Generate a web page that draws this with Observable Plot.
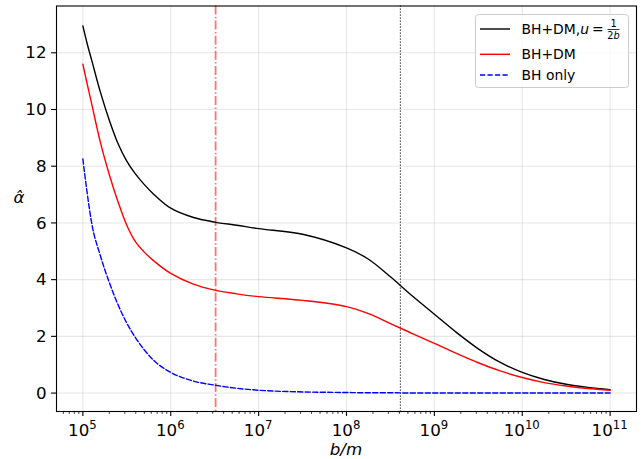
<!DOCTYPE html>
<html>
<head>
<meta charset="utf-8">
<script src="https://cdn.jsdelivr.net/npm/d3@7"></script>
<script src="https://cdn.jsdelivr.net/npm/@observablehq/plot@0.6"></script>
<style>
  html, body { margin: 0; padding: 0; background: white; }
  svg { display: block; }
</style>
</head>
<body>
<div id="chart"></div>
<script>
// ---- data ----
const bValues = [1.00e5, 1.12e5, 1.26e5, 1.58e5, 2.00e5, 2.51e5, 3.16e5, 3.98e5, 5.01e5, 6.31e5,
  1.00e6, 1.78e6, 3.16e6, 5.62e6, 1.00e7, 3.16e7, 1.00e8, 1.78e8, 3.16e8, 5.62e8,
  1.00e9, 1.78e9, 3.16e9, 5.62e9, 1.00e10, 1.78e10, 3.16e10, 5.62e10, 1.00e11];
const alphaBHDMu = [12.95, 12.32, 11.74, 10.62, 9.62, 8.8, 8.18, 7.72, 7.35, 7.03,
  6.52, 6.2, 6.03, 5.92, 5.8, 5.6, 5.12, 4.72, 4.1, 3.42,
  2.78, 2.14, 1.56, 1.08, 0.73, 0.48, 0.31, 0.2, 0.12];
const alphaBHDM = [11.6, 10.9, 10.2, 8.85, 7.7, 6.75, 5.92, 5.33, 4.97, 4.68,
  4.22, 3.85, 3.63, 3.5, 3.4, 3.27, 3.05, 2.8, 2.45, 2.1,
  1.75, 1.4, 1.07, 0.78, 0.55, 0.37, 0.25, 0.16, 0.1];
const alphaBHonly = [8.26, 7.05, 6.0, 4.85, 3.9, 3.12, 2.47, 1.95, 1.52, 1.17,
  0.73, 0.43, 0.28, 0.17, 0.1, 0.04, 0.02, 0.01, 0.01, 0.0,
  0.0, 0.0, 0.0, 0.0, 0.0, 0.0, 0.0, 0.0, 0.0];
const seriesNames = ["BH+DM,u", "BH+DM", "BH only"];
const verticalRed = [3.24e6];
const verticalDotted = [4.1e8];
const xMajor = [1e5, 1e6, 1e7, 1e8, 1e9, 1e10, 1e11];
const xExponents = ["5", "6", "7", "8", "9", "10", "11"];
const yTicks = [0, 2, 4, 6, 8, 10, 12];
const yTickLabels = ["0", "2", "4", "6", "8", "10", "12"];

const xDomain = [Math.pow(10, 4.7), Math.pow(10, 11.3)];
const xMinor = [];
for (let k = 4; k <= 11; k++) for (let m = 2; m <= 9; m++) {
  const v = m * Math.pow(10, k);
  if (v > xDomain[0] && v < xDomain[1]) xMinor.push(v);
}

const mk = (vals) => bValues.map((b, i) => ({b, a: vals[i]}));
const dBlack = mk(alphaBHDMu), dRed = mk(alphaBHDM), dBlue = mk(alphaBHonly);

const FONT = "DejaVu Sans";
const TICKFS = 16.7;
const LEGFS = 13.9;
const chart = Plot.plot({
  width: 641, height: 459,
  marginLeft: 56, marginRight: 5, marginTop: 5.5, marginBottom: 48,
  style: {fontFamily: FONT, fontSize: LEGFS + "px", background: "white", color: "black"},
  x: {type: "log", domain: xDomain},
  y: {domain: [-0.65, 13.65]},
  marks: [
    Plot.gridX(xMajor, {stroke: "#b0b0b0", strokeOpacity: 0.3, strokeWidth: 1.1}),
    Plot.gridY(yTicks, {stroke: "#b0b0b0", strokeOpacity: 0.3, strokeWidth: 1.1}),
    Plot.ruleX(verticalRed, {stroke: "red", strokeOpacity: 0.55, strokeWidth: 1.8, strokeDasharray: "9,2.3,1.5,2.3"}),
    Plot.ruleX(verticalDotted, {stroke: "black", strokeWidth: 1, strokeDasharray: "1.2,1.8"}),
    Plot.line(dBlack, {x: "b", y: "a", stroke: "black", strokeWidth: 1.4, curve: "catmull-rom"}),
    Plot.line(dRed, {x: "b", y: "a", stroke: "red", strokeWidth: 1.4, curve: "catmull-rom"}),
    Plot.line(dBlue, {x: "b", y: "a", stroke: "blue", strokeWidth: 1.4, strokeDasharray: "5.2,2.3", curve: "monotone-x"}),
    Plot.frame({stroke: "black", strokeWidth: 1.1}),
    Plot.axisX(xMajor, {anchor: "bottom", tickSize: 4.9, tickFormat: () => "", label: null, strokeWidth: 1.1}),
    Plot.axisX(xMinor, {anchor: "bottom", tickSize: 2.8, tickFormat: () => "", label: null, strokeWidth: 0.8}),
    Plot.axisY(yTicks, {anchor: "left", tickSize: 4.9, tickFormat: () => "", label: null, strokeWidth: 1.1})
  ]
});
document.getElementById("chart").appendChild(chart);

const svg = d3.select(chart);
const xs = chart.scale("x");
const ys = chart.scale("y");

// y tick labels
const yl = svg.append("g").attr("font-family", FONT).attr("fill", "black").attr("font-size", TICKFS);
yTicks.forEach((v, i) => {
  yl.append("text").attr("x", 46.5).attr("y", ys.apply(v) + 6.1)
    .attr("text-anchor", "end").text(yTickLabels[i]);
});

// x tick labels with superscripts
const xl = svg.append("g").attr("font-family", FONT).attr("fill", "black");
xMajor.forEach((v, i) => {
  const t = xl.append("text").attr("x", xs.apply(v)).attr("y", 435.5)
    .attr("text-anchor", "middle").attr("font-size", TICKFS);
  t.append("tspan").text("10");
  t.append("tspan").attr("font-size", 11.7).attr("dy", -7).text(xExponents[i]);
});

// axis labels
svg.append("text").attr("x", 346).attr("y", 455).attr("text-anchor", "middle")
  .attr("font-family", FONT).attr("font-size", 16.7).attr("font-style", "italic").attr("fill", "black").text("b/m");
svg.append("text").attr("x", 19).attr("y", 203).attr("text-anchor", "middle")
  .attr("font-family", FONT).attr("font-size", 16.7).attr("font-style", "italic").attr("fill", "black").text("\u03B1\u0302");

// legend
const lg = svg.append("g").attr("font-family", FONT).attr("font-size", LEGFS)
  .attr("text-anchor", "start").attr("fill", "black");
lg.append("rect").attr("x", 475.5).attr("y", 14.5).attr("width", 153).attr("height", 73)
  .attr("rx", 3).attr("fill", "white").attr("fill-opacity", 0.8).attr("stroke", "#cccccc");
const rows = [
  {y: 29, stroke: "black", dash: null},
  {y: 54.3, stroke: "red", dash: null},
  {y: 75, stroke: "blue", dash: "5.2,2.3"}
];
rows.forEach((r) => {
  lg.append("line").attr("x1", 480).attr("x2", 510).attr("y1", r.y).attr("y2", r.y)
    .attr("stroke", r.stroke).attr("stroke-width", 1.4).attr("stroke-dasharray", r.dash);
});
// row 1: BH+DM, u = 1/(2b)
const t1 = lg.append("text").attr("x", 521.5).attr("y", 34).attr("text-anchor", "start");
t1.append("tspan").text("BH+DM,");
t1.append("tspan").attr("font-style", "italic").text("u");
t1.append("tspan").attr("dx", 3).text("=");
lg.append("text").attr("x", 613.5).attr("y", 26.5).attr("text-anchor", "middle").attr("font-size", 9.8).text("1");
lg.append("line").attr("x1", 607.5).attr("x2", 619.5).attr("y1", 29.5).attr("y2", 29.5).attr("stroke", "black").attr("stroke-width", 0.8);
const fr = lg.append("text").attr("x", 613.5).attr("y", 39).attr("text-anchor", "middle").attr("font-size", 9.8);
fr.append("tspan").text("2");
fr.append("tspan").attr("font-style", "italic").text("b");
lg.append("text").attr("x", 521.5).attr("y", 59.3).attr("text-anchor", "start").text("BH+DM");
lg.append("text").attr("x", 521.5).attr("y", 80).attr("text-anchor", "start").text("BH only");
</script>
</body>
</html>
